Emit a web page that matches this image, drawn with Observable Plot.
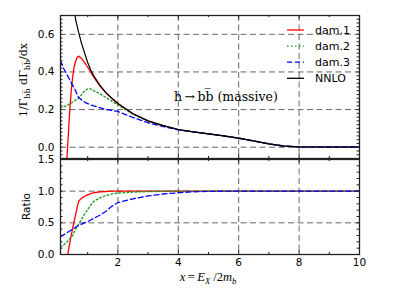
<!DOCTYPE html>
<html><head><meta charset="utf-8">
<script src="https://cdn.jsdelivr.net/npm/d3@7"></script>
<script src="https://cdn.jsdelivr.net/npm/@observablehq/plot@0.6"></script>
<style>
body{margin:0;background:#fff;}
#wrap{position:relative;width:399px;height:299px;background:#fff;}
#wrap svg{position:absolute;left:0;overflow:visible;}
</style></head><body><div id="wrap"></div>
<script>
// ---- data ----
const xs    = [0.1,0.2,0.3,0.35,0.4,0.45,0.5,0.55,0.6,0.65,0.7,0.8,0.9,1.0,1.1,1.2,1.4,1.6,1.8,2.0,2.5,3.0,3.5,4.0,4.5,5.0,5.5,6.0,6.5,7.0,7.5,8.0,9.0,10.0];
const nnlo  = [2.6,1.6,1.2,1.06,0.95,0.86,0.79,0.74,0.68,0.645,0.61,0.55,0.50,0.45,0.41,0.38,0.33,0.29,0.26,0.232,0.178,0.14,0.115,0.094,0.082,0.071,0.060,0.048,0.033,0.018,0.006,0.002,0.001,0.001];
const dam1  = [null,null,-0.09,0.04,0.18,0.29,0.37,0.425,0.457,0.477,0.484,0.472,0.45,0.425,0.40,0.372,0.328,0.29,0.26,0.232,0.178,0.14,0.115,0.094,0.082,0.071,0.060,0.048,0.033,0.018,0.006,0.002,0.001,0.001];
const dam2  = [0.21,0.215,0.22,0.225,0.23,0.235,0.24,0.245,0.25,0.255,0.26,0.28,0.30,0.31,0.31,0.30,0.285,0.265,0.245,0.225,0.175,0.139,0.115,0.094,0.082,0.071,0.060,0.048,0.033,0.018,0.006,0.002,0.001,0.001];
const dam3  = [0.46,0.42,0.39,0.375,0.36,0.345,0.33,0.315,0.30,0.28,0.265,0.25,0.24,0.232,0.225,0.22,0.21,0.20,0.195,0.19,0.158,0.13,0.11,0.092,0.081,0.071,0.060,0.048,0.033,0.018,0.006,0.002,0.001,0.001];
const ratio1 = [null,null,-0.1,0.02,0.16,0.29,0.41,0.52,0.63,0.74,0.84,0.89,0.92,0.94,0.96,0.975,0.99,0.995,1.0,1.0,1.0,1.0,1.0,1.0,1.0,1.0,1.0,1.0,1.0,1.0,1.0,1.0,1.0,1.0];
const ratio2 = [0.12,0.15,0.19,0.22,0.25,0.27,0.30,0.35,0.40,0.44,0.48,0.56,0.64,0.71,0.78,0.84,0.895,0.93,0.955,0.97,0.985,0.993,0.997,1.0,1.0,1.0,1.0,1.0,1.0,1.0,1.0,1.0,1.0,1.0];
const ratio3 = [0.28,0.31,0.34,0.355,0.37,0.385,0.40,0.415,0.43,0.445,0.46,0.48,0.50,0.52,0.545,0.57,0.62,0.68,0.76,0.82,0.88,0.925,0.955,0.975,0.99,0.997,1.0,1.0,1.0,1.0,1.0,1.0,1.0,1.0];

const legendLabels = ["dam.1","dam.2","dam.3","NNLO"];
const xTickLabels = [2,4,6,8,10];
const xMinorTicks = [1,3,5,7,9];
const topYTickLabels = [0.0,0.2,0.4,0.6];
const botYTickLabels = [0.0,0.5,1.0,1.5];
const botGridY = [0.5,1.0];
const gridXVals = [2,4,6,8];

// ---- styles ----
const colors = {red:"#ff0000", green:"#1f9a1f", blue:"#0000ff", black:"#000000"};
const styles = [
  {stroke:colors.red, strokeDasharray:null},
  {stroke:colors.green, strokeDasharray:"1.5,2.5"},
  {stroke:colors.blue, strokeDasharray:"5,3"},
  {stroke:colors.black, strokeDasharray:null}
];
const W = 399, ML = 60, MR = 40, PW = W - ML - MR;
const gridStyle = {stroke:"#555", strokeOpacity:1, strokeDasharray:"6,3.5", strokeWidth:0.9};
const frameStyle = {stroke:"#222", strokeWidth:1.3};

function series(ys){ return xs.map((x,i)=>({x, y: ys[i]})).filter(d => d.y != null); }

function tickMarks(ph, yMinor){
  return [
    Plot.tickX(gridXVals, {x:d=>d, insetTop:ph-4, stroke:"#222"}),
    Plot.tickX(gridXVals, {x:d=>d, insetBottom:ph-4, stroke:"#222"}),
    Plot.tickX(xMinorTicks, {x:d=>d, insetTop:ph-2, stroke:"#222"}),
    Plot.tickX(xMinorTicks, {x:d=>d, insetBottom:ph-2, stroke:"#222"}),
    Plot.tickY(yMinor, {y:d=>d, insetRight:PW-2.5, stroke:"#222"}),
    Plot.tickY(yMinor, {y:d=>d, insetLeft:PW-2.5, stroke:"#222"})
  ];
}

const fontStyle = {fontFamily:"DejaVu Sans, sans-serif", fontSize:"10.5px", background:"transparent", color:"#000"};

// ---- top panel ----
const topPH = 143;
const topYMinor = d3.range(-6, 71, 2).map(v => v/100);
const topPlot = Plot.plot({
  width: W, height: 15 + topPH, marginLeft: ML, marginRight: MR, marginTop: 15, marginBottom: 0,
  style: fontStyle,
  x: {domain:[0.1,10], axis:null},
  y: {domain:[-0.06,0.7], axis:null},
  marks: [
    Plot.gridX(gridXVals, gridStyle),
    Plot.gridY(topYTickLabels, gridStyle),
    Plot.line(series(dam1), {x:"x", y:"y", ...styles[0], strokeWidth:1.3, clip:true}),
    Plot.line(series(dam2), {x:"x", y:"y", ...styles[1], strokeWidth:1.4, clip:true}),
    Plot.line(series(dam3), {x:"x", y:"y", ...styles[2], strokeWidth:1.3, clip:true}),
    Plot.line(series(nnlo), {x:"x", y:"y", ...styles[3], strokeWidth:1.2, clip:true}),
    Plot.axisY(topYTickLabels, {anchor:"left", tickSize:0, tickPadding:6, tickFormat:d3.format(".1f"), label:null, fontSize:10.5}),
    ...tickMarks(topPH, topYMinor),
    Plot.frame(frameStyle)
  ]
});
topPlot.style.top = "0px";

// ---- bottom panel ----
const botPH = 95;
const botYMinor = d3.range(0, 16, 1).map(v => v/10);
const botPlot = Plot.plot({
  width: W, height: 1 + botPH + 45, marginLeft: ML, marginRight: MR, marginTop: 1, marginBottom: 45,
  style: fontStyle,
  x: {domain:[0.1,10], axis:null},
  y: {domain:[0,1.5], axis:null},
  marks: [
    Plot.gridX(gridXVals, gridStyle),
    Plot.gridY(botGridY, gridStyle),
    Plot.line(series(ratio1), {x:"x", y:"y", ...styles[0], strokeWidth:1.3, clip:true}),
    Plot.line(series(ratio2), {x:"x", y:"y", ...styles[1], strokeWidth:1.4, clip:true}),
    Plot.line(series(ratio3), {x:"x", y:"y", ...styles[2], strokeWidth:1.3, clip:true}),
    Plot.axisY(botYTickLabels, {anchor:"left", tickSize:0, tickPadding:6, tickFormat:d3.format(".1f"), label:null, fontSize:10.5}),
    Plot.axisX(xTickLabels, {anchor:"bottom", tickSize:0, tickPadding:4, label:null, fontSize:10.5}),
    ...tickMarks(botPH, botYMinor),
    Plot.frame(frameStyle)
  ]
});
botPlot.style.top = "158px";

const wrap = document.getElementById("wrap");
wrap.appendChild(topPlot);
wrap.appendChild(botPlot);

// ---- legend (top panel) ----
const ts = d3.select(topPlot);
const lg = ts.append("g").attr("text-anchor", "start");
legendLabels.forEach((lab, i) => {
  const y = 30 + i * 16.1;
  lg.append("line").attr("x1", 287).attr("x2", 304).attr("y1", y).attr("y2", y)
    .attr("stroke", styles[i].stroke).attr("stroke-width", 1.3)
    .attr("stroke-dasharray", styles[i].strokeDasharray);
  lg.append("text").attr("x", 315).attr("y", y).attr("dy", "0.35em").attr("text-anchor", "start")
    .attr("font-family", "DejaVu Sans, sans-serif").attr("font-size", 11).text(lab);
});

// ---- annotation ----
const OB = "b\u0305"; // b with combining overline
ts.append("text").attr("x", 174).attr("y", 100.5).attr("text-anchor", "start")
  .attr("font-family", "DejaVu Serif, serif").attr("font-size", 12.5)
  .text("h\u2009\u2192\u2009b" + OB + " (massive)");

// ---- y label top ----
const yl = ts.append("text").attr("transform", "translate(27,80) rotate(-90)")
  .attr("text-anchor", "middle").attr("font-family", "DejaVu Serif, serif").attr("font-size", 11);
yl.append("tspan").text("1/\u0393");
yl.append("tspan").attr("font-size", 8).attr("dy", 3).text("b" + OB);
yl.append("tspan").attr("dy", -3).text(" d\u0393");
yl.append("tspan").attr("font-size", 8).attr("dy", 3).text("b" + OB);
yl.append("tspan").attr("dy", -3).text("/dx");

// ---- bottom labels ----
const bs = d3.select(botPlot);
bs.append("text").attr("transform", "translate(30,48.5) rotate(-90)")
  .attr("text-anchor", "middle").attr("font-family", "DejaVu Sans, sans-serif").attr("font-size", 10.5).text("Ratio");
const xl = bs.append("text").attr("x", 208).attr("y", 123).attr("text-anchor", "middle")
  .attr("font-family", "Liberation Serif, serif").attr("font-size", 12.5);
xl.append("tspan").attr("font-style", "italic").text("x");
xl.append("tspan").text("\u2009=\u2009");
xl.append("tspan").attr("font-style", "italic").text("E");
xl.append("tspan").attr("font-style", "italic").attr("font-size", 8.5).attr("dy", 2.5).text("X");
xl.append("tspan").attr("dy", -2.5).text(" /2");
xl.append("tspan").attr("font-style", "italic").text("m");
xl.append("tspan").attr("font-style", "italic").attr("font-size", 8.5).attr("dy", 2.5).text("b");
</script></body></html>
